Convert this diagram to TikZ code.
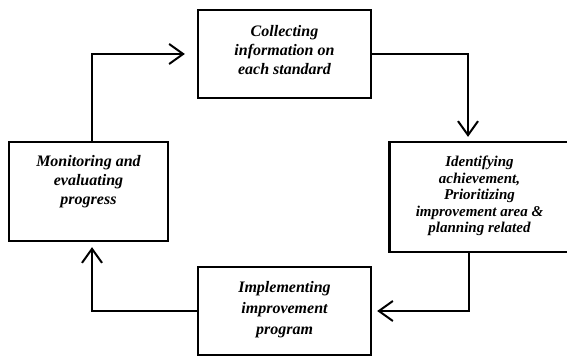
\documentclass[tikz,border=0pt]{standalone}
\usepackage{fontspec}
\setmainfont{Liberation Serif}
\usetikzlibrary{arrows.meta,calc}
\begin{document}
\begin{tikzpicture}[x=1pt,y=-1pt,
  box/.style={draw=black, line width=2.3pt, rectangle, inner sep=0pt},
  txt/.style={align=center, inner sep=0pt, font=\fontsize{16}{19}\selectfont\bfseries\itshape},
  arr/.style={draw=black, line width=2pt, -{Straight Barb[length=14pt,width=20pt,line width=2pt]}}]
\useasboundingbox (0,0) rectangle (567,358);
\node[box, minimum width=173pt, minimum height=88pt] (top) at (284.5,54) {};
\node[box, minimum width=180pt, minimum height=110pt] (right) at (479.5,197) {};
\node[box, minimum width=173pt, minimum height=88pt] (bottom) at (284.5,311) {};
\node[box, minimum width=159pt, minimum height=99pt] (left) at (88.5,191.5) {};
\node[txt] (ttop) at (284.5,50) {Collecting\\information on\\each standard};
\node[txt, font=\fontsize{15}{16.5}\selectfont\bfseries\itshape] (tright) at (479.5,196) {Identifying\\achievement,\\Prioritizing\\improvement area \&\\planning related};
\node[txt, font=\fontsize{16}{21}\selectfont\bfseries\itshape] (tbottom) at (284.5,310) {Implementing\\improvement\\program};
\node[txt] (tleft) at (88.5,182) {Monitoring and\\evaluating\\progress};
\draw[arr, shorten >=4pt] (top.east) -| ([xshift=-11.5pt]right.north);
\draw[arr, shorten >=5pt] ([xshift=-10.5pt]right.south) |- (bottom.east);
\draw[arr, shorten >=5pt] (bottom.west) -| ([xshift=3.5pt]left.south);
\draw[arr, shorten >=12pt] ([xshift=3.5pt]left.north) |- (top.west);
\end{tikzpicture}
\end{document}
